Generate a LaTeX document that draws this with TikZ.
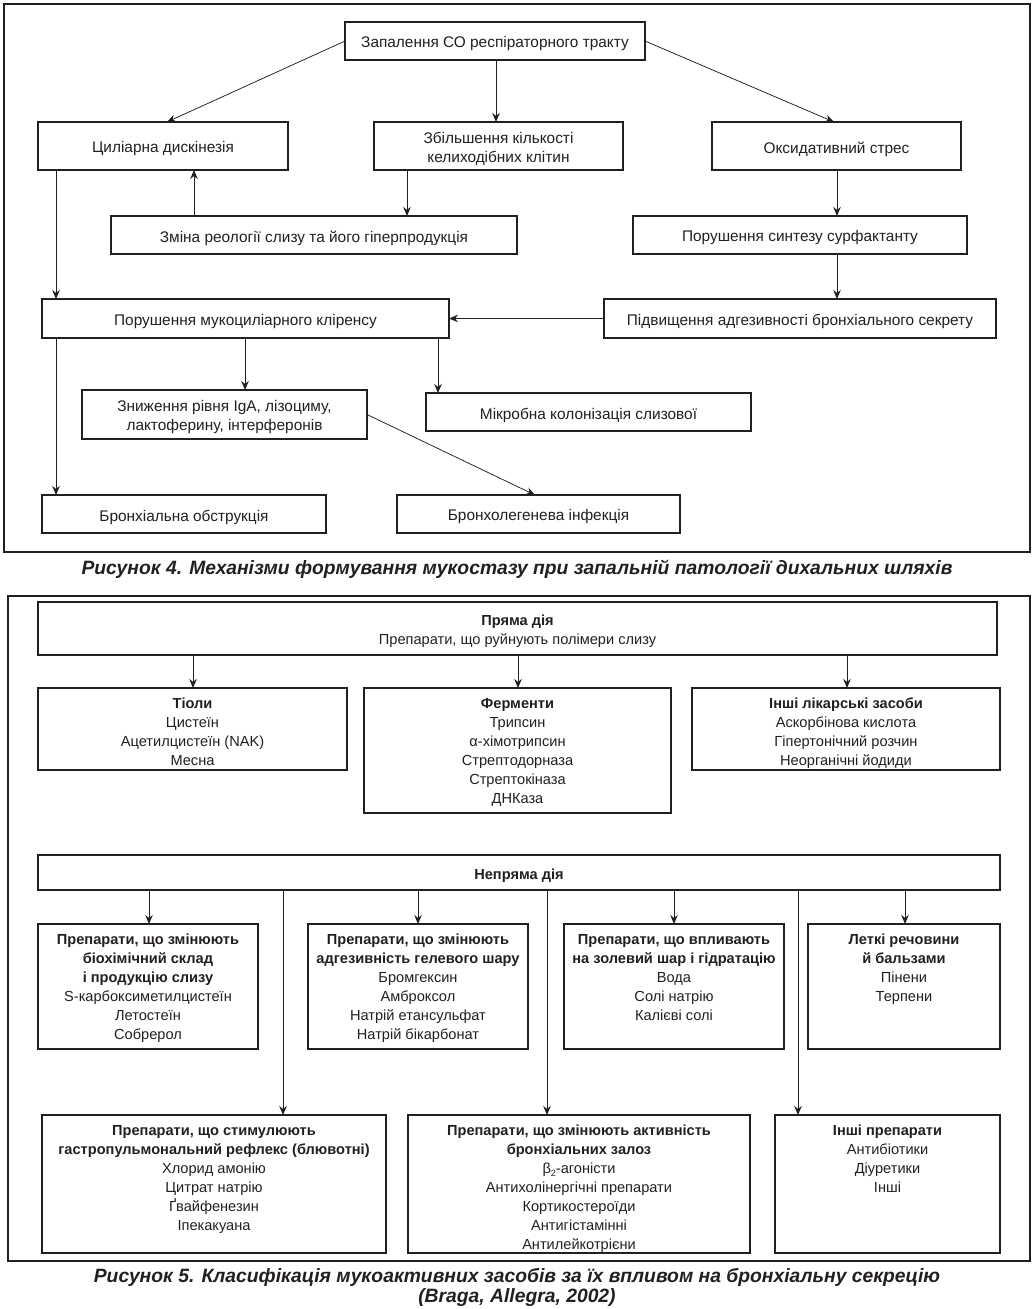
\documentclass[tikz,border=0pt]{standalone}
\usepackage{fontspec}
\setmainfont{Liberation Sans}
\usetikzlibrary{arrows.meta}
\definecolor{ink}{HTML}{231F20}
\newcommand\fs{\fontsize{15.4}{19}\selectfont}
\newcommand\fsv{\fontsize{14.6}{19}\selectfont}
\newcommand\capfs{\fontsize{19.3}{20}\selectfont\bfseries\itshape}
\tikzset{
  bx/.style={draw=ink, line width=1.2pt, inner sep=0pt, outer sep=0pt},
  txt/.style={inner sep=0pt, outer sep=0pt, align=center, text=ink, font=\fs},
  txtv/.style={txt, font=\fsv},
  arr/.style={draw=ink, line width=1pt, -{Stealth[length=9pt,width=7.5pt]}},
  thinarr/.style={draw=ink, line width=0.75pt, -{Stealth[length=9pt,width=7.5pt]}},
  frame/.style={draw=ink, line width=1.2pt, inner sep=0pt, outer sep=0pt},
  captxt/.style={align=center, text=ink, font=\capfs, inner sep=0pt}
}
% box with centred text: style, name, x1, y1, x2, y2, text
\newcommand\bxn[7]{\node[bx,minimum width={#5pt-#3pt},minimum height={#6pt-#4pt}] (#2) at ({(#3+#5)/2},{(#4+#6)/2}) {};
  \node[#1] (#2t) at ([yshift=-3pt]#2.center) {#7};}
% box with top-anchored text
\newcommand\bxt[6]{\node[bx,minimum width={#4pt-#2pt},minimum height={#5pt-#3pt}] (#1) at ({(#2+#4)/2},{(#3+#5)/2}) {};
  \node[txtv,anchor=north] (#1t) at ([yshift=-10pt]#1.north) {#6};}
\begin{document}
\begin{tikzpicture}[x=1pt,y=-1pt]
\useasboundingbox (0,0) rectangle (1035,1309);
% ---------- Figure 4 ----------
\node[frame,minimum width=1026pt,minimum height=548pt] (fr4) at (517,278) {};
\bxn{txt}{top}{345}{22}{645}{60}{Запалення СО респіраторного тракту}
\bxn{txt}{cil}{38}{122}{288}{170}{Циліарна дискінезія}
\bxn{txt}{zb}{374}{122}{623}{170}{Збільшення кількості\\келиходібних клітин}
\bxn{txt}{ox}{712}{122}{961}{170}{Оксидативний стрес}
\bxn{txt}{zm}{111}{216}{517}{254}{Зміна реології слизу та його гіперпродукція}
\bxn{txt}{syn}{633}{216}{967}{254}{Порушення синтезу сурфактанту}
\bxn{txt}{muc}{42}{299}{449}{338}{Порушення мукоциліарного кліренсу}
\bxn{txt}{adh}{604}{299}{996}{338}{Підвищення адгезивності бронхіального секрету}
\bxn{txt}{iga}{82}{390}{367}{439}{Зниження рівня IgA, лізоциму,\\лактоферину, інтерферонів}
\bxn{txt}{mik}{426}{393}{751}{431}{Мікробна колонізація слизової}
\bxn{txt}{obs}{42}{495}{326}{533}{Бронхіальна обструкція}
\bxn{txt}{inf}{397}{495}{680}{533}{Бронхолегенева інфекція}
\draw[thinarr] (top.west) -- (167,0 |- cil.north);
\draw[arr] (496,0 |- top.south) -- (496,0 |- zb.north);
\draw[thinarr] (top.east) -- (834,0 |- ox.north);
\draw[arr] (407,0 |- zb.south) -- (407,0 |- zm.north);
\draw[arr] (194,0 |- zm.north) -- (194,0 |- cil.south);
\draw[arr] (837,0 |- ox.south) -- (837,0 |- syn.north);
\draw[arr] (837,0 |- syn.south) -- (837,0 |- adh.north);
\draw[arr] (adh.west) -- (muc.east);
\draw[arr] (56,0 |- cil.south) -- (56,0 |- muc.north);
\draw[arr] (56,0 |- muc.south) -- (56,0 |- obs.north);
\draw[arr] (245,0 |- muc.south) -- (245,0 |- iga.north);
\draw[arr] (438,0 |- muc.south) -- (438,0 |- mik.north);
\draw[thinarr] (iga.east) -- (535,0 |- inf.north);
\node[captxt] (cap4) at (517,569) {Рисунок 4. Механізми формування мукостазу при запальній патології дихальних шляхів};
% ---------- Figure 5 ----------
\node[frame,minimum width=1022pt,minimum height=665pt] (fr5) at (519,928.5) {};
\bxn{txtv}{pr}{38}{602}{997}{655}{\textbf{Пряма дія}\\Препарати, що руйнують полімери слизу}
\bxt{tio}{38}{688}{347}{770}{\textbf{Тіоли}\\Цистеїн\\Ацетилцистеїн (NAK)\\Месна}
\bxt{fer}{364}{688}{671}{813}{\textbf{Ферменти}\\Трипсин\\α-хімотрипсин\\Стрептодорназа\\Стрептокіназа\\ДНКаза}
\bxt{ins}{692}{688}{1000}{770}{\textbf{Інші лікарські засоби}\\Аскорбінова кислота\\Гіпертонічний розчин\\Неорганічні йодиди}
\bxn{txtv}{np}{38}{855}{1000}{890}{\textbf{Непряма дія}}
\bxt{ba}{38}{924}{258}{1049}{\textbf{Препарати, що змінюють}\\\textbf{біохімічний склад}\\\textbf{і продукцію слизу}\\S-карбоксиметилцистеїн\\Летостеїн\\Собрерол}
\bxt{bb}{308}{924}{528}{1049}{\textbf{Препарати, що змінюють}\\\textbf{адгезивність гелевого шару}\\Бромгексин\\Амброксол\\Натрій етансульфат\\Натрій бікарбонат}
\bxt{bc}{564}{924}{784}{1049}{\textbf{Препарати, що впливають}\\\textbf{на золевий шар і гідратацію}\\Вода\\Солі натрію\\Калієві солі}
\bxt{bd}{808}{924}{1000}{1049}{\textbf{Леткі речовини}\\\textbf{й бальзами}\\Пінени\\Терпени}
\bxt{be}{42}{1115}{386}{1253}{\textbf{Препарати, що стимулюють}\\\textbf{гастропульмональний рефлекс (блювотні)}\\Хлорид амонію\\Цитрат натрію\\Ґвайфенезин\\Іпекакуана}
\bxt{bf}{408}{1115}{750}{1253}{\textbf{Препарати, що змінюють активність}\\\textbf{бронхіальних залоз}\\β\raisebox{-0.35ex}{\fontsize{9}{9}\selectfont 2}-агоністи\\Антихолінергічні препарати\\Кортикостероїди\\Антигістамінні\\Антилейкотрієни}
\bxt{bg}{775}{1115}{1000}{1253}{\textbf{Інші препарати}\\Антибіотики\\Діуретики\\Інші}
\draw[arr] (193,0 |- pr.south) -- (193,0 |- tio.north);
\draw[arr] (518,0 |- pr.south) -- (518,0 |- fer.north);
\draw[arr] (847,0 |- pr.south) -- (847,0 |- ins.north);
\draw[arr] (149,0 |- np.south) -- (149,0 |- ba.north);
\draw[arr] (418,0 |- np.south) -- (418,0 |- bb.north);
\draw[arr] (674,0 |- np.south) -- (674,0 |- bc.north);
\draw[arr] (905,0 |- np.south) -- (905,0 |- bd.north);
\draw[arr] (283,0 |- np.south) -- (283,0 |- be.north);
\draw[arr] (547,0 |- np.south) -- (547,0 |- bf.north);
\draw[arr] (798,0 |- np.south) -- (798,0 |- bg.north);
\node[captxt] (cap5) at (517,1287) {Рисунок 5. Класифікація мукоактивних засобів за їх впливом на бронхіальну секрецію\\(Braga, Allegra, 2002)};
\end{tikzpicture}
\end{document}
